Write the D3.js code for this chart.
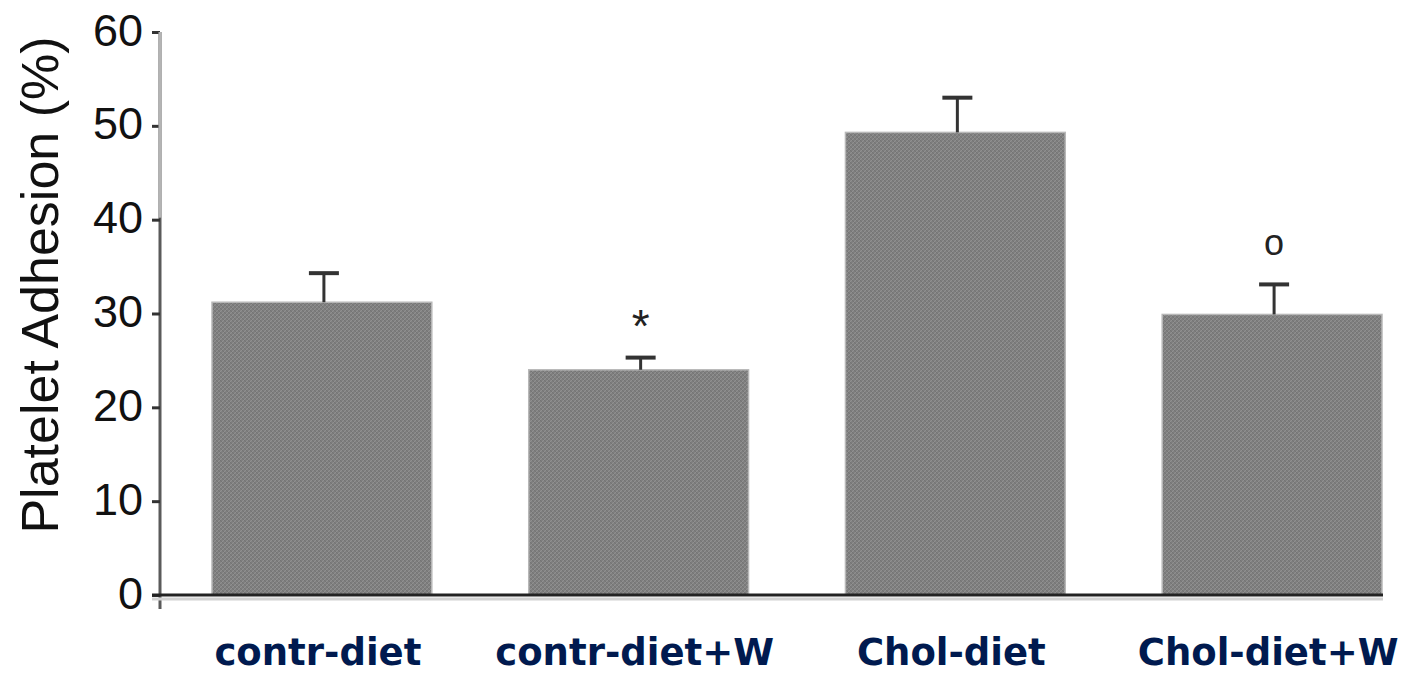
<!DOCTYPE html>
<html>
<head>
<meta charset="utf-8">
<script src="https://cdn.jsdelivr.net/npm/d3@7"></script>
<style>
  html, body { margin: 0; padding: 0; background: #fff; }
  svg { display: block; }
</style>
</head>
<body>
<svg id="chart" width="1410" height="676"></svg>
<script>
// Platelet adhesion by diet group (mean with upper error bar)
const categories = ["contr-diet", "contr-diet+W", "Chol-diet", "Chol-diet+W"];
const means = [31.2, 24.0, 49.3, 29.9];
const errUpper = [3.1, 1.3, 3.7, 3.2];
const significance = ["", "*", "", "o"];
const yTicks = [0, 10, 20, 30, 40, 50, 60];
const yTitle = "Platelet Adhesion (%)";

const svg = d3.select("#chart");
const axisX = 160, axisRight = 1383;

const y = d3.scaleLinear().domain([0, 60]).range([595, 32]);
const x = d3.scaleBand().domain(categories).range([212, 1382]).paddingInner(0.306).paddingOuter(0);

// fine diagonal texture used for the bar fill
const defs = svg.append("defs");
const pat = defs.append("pattern")
  .attr("id", "barTexture")
  .attr("patternUnits", "userSpaceOnUse")
  .attr("width", 4).attr("height", 4);
pat.append("rect").attr("width", 4).attr("height", 4).attr("fill", "#7d7d7d");
pat.append("path").attr("d", "M0,4 L4,0 M-1,1 L1,-1 M3,5 L5,3")
  .attr("stroke", "#919191").attr("stroke-width", 1.1);
pat.append("path").attr("d", "M0,0 L4,4")
  .attr("stroke", "#6b6b6b").attr("stroke-width", 0.8).attr("opacity", 0.75);

// bars
svg.append("g").selectAll("rect")
  .data(categories)
  .join("rect")
  .attr("x", d => x(d))
  .attr("y", (d, i) => y(means[i]))
  .attr("width", x.bandwidth())
  .attr("height", (d, i) => y(0) - y(means[i]))
  .attr("fill", "url(#barTexture)")
  .attr("stroke", "#b8b8b8")
  .attr("stroke-width", 1.5);

// error bars (upper whisker only)
const eb = svg.append("g").attr("stroke", "#333").attr("fill", "none");
categories.forEach((c, i) => {
  const cx = x(c) + x.bandwidth() / 2 + 2;
  eb.append("line")
    .attr("x1", cx).attr("x2", cx)
    .attr("y1", y(means[i])).attr("y2", y(means[i] + errUpper[i]))
    .attr("stroke-width", 3);
  eb.append("line")
    .attr("x1", cx - 15).attr("x2", cx + 15)
    .attr("y1", y(means[i] + errUpper[i])).attr("y2", y(means[i] + errUpper[i]))
    .attr("stroke-width", 4);
});

// significance markers
svg.append("g").selectAll("text")
  .data(categories)
  .join("text")
  .attr("x", d => x(d) + x.bandwidth() / 2 + 2)
  .attr("y", (d, i) => significance[i] === "*" ? y(means[i] + errUpper[i]) - 16 : y(means[i] + errUpper[i]) - 29)
  .attr("text-anchor", "middle")
  .attr("font-family", "Liberation Sans, Arial, sans-serif")
  .attr("font-size", (d, i) => significance[i] === "*" ? 46 : 36)
  .attr("fill", "#222")
  .text((d, i) => significance[i]);

// y axis
const yAxis = svg.append("g")
  .attr("transform", `translate(${axisX},0)`)
  .call(d3.axisLeft(y).tickValues(yTicks).tickSize(8).tickSizeOuter(0).tickPadding(9));
yAxis.select(".domain").attr("stroke", "#5a5a5a").attr("stroke-width", 3)
  .attr("d", `M0,${y(60)}V${y(0) + 14}`);
// lighter upper stretch of the axis line
yAxis.append("line")
  .attr("x1", 0).attr("x2", 0)
  .attr("y1", y(60)).attr("y2", y(40) - 2)
  .attr("stroke", "#b4b4b4").attr("stroke-width", 3);
yAxis.selectAll(".tick line").attr("stroke", "#333").attr("stroke-width", 3);
yAxis.selectAll(".tick text")
  .attr("font-family", "Liberation Sans, Arial, sans-serif")
  .attr("font-size", 45)
  .attr("fill", "#111")
  .attr("dy", "0.29em");

// x axis baseline with soft shadow below
svg.append("line")
  .attr("x1", axisX - 8).attr("x2", axisRight)
  .attr("y1", y(0) + 4).attr("y2", y(0) + 4)
  .attr("stroke", "#d2d2d2").attr("stroke-width", 3);
svg.append("line")
  .attr("x1", axisX - 8).attr("x2", axisRight)
  .attr("y1", y(0)).attr("y2", y(0))
  .attr("stroke", "#222").attr("stroke-width", 3);

// category labels
svg.append("g").selectAll("text")
  .data(categories)
  .join("text")
  .attr("x", d => x(d) + x.bandwidth() / 2 - 4)
  .attr("y", 665)
  .attr("text-anchor", "middle")
  .attr("font-family", "DejaVu Sans, Verdana, sans-serif")
  .attr("font-weight", "bold")
  .attr("font-size", 37)
  .attr("fill", "#001a4f")
  .text(d => d);

// y axis title
svg.append("text")
  .attr("transform", "translate(58,285) rotate(-90)")
  .attr("text-anchor", "middle")
  .attr("font-family", "Liberation Sans, Arial, sans-serif")
  .attr("font-size", 52)
  .attr("fill", "#111")
  .text(yTitle);
</script>
</body>
</html>
